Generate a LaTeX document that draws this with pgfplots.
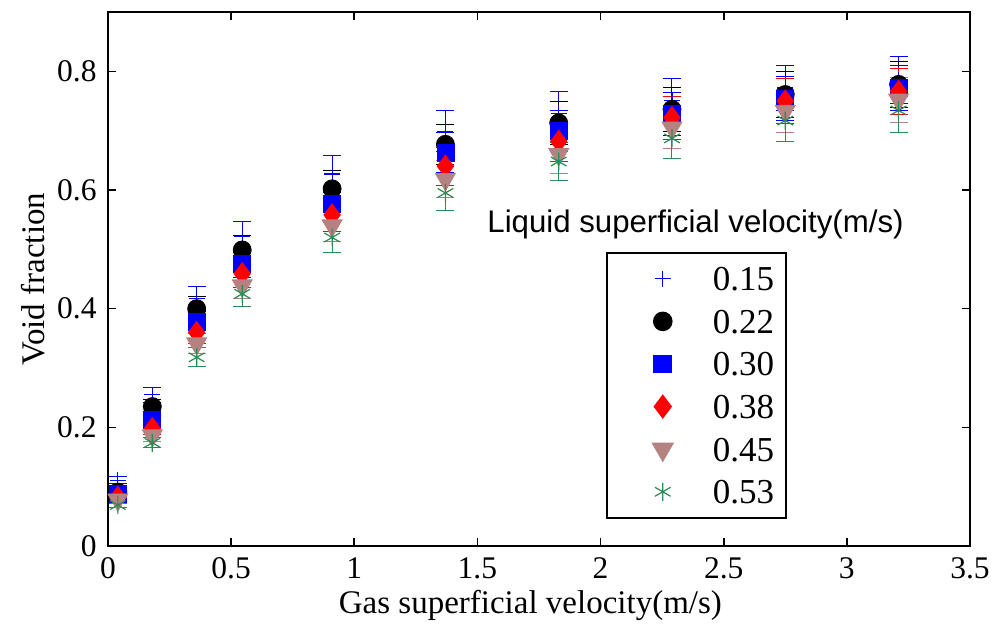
\documentclass[border=0pt]{standalone}
\usepackage{fontspec}
\setmainfont{Liberation Serif}
\newfontfamily\arial{Liberation Sans}
\usepackage{pgfplots}
\pgfplotsset{compat=1.18}
\usetikzlibrary{calc}

\definecolor{mblue}{rgb}{0,0,1}
\definecolor{mbrown}{rgb}{0.71,0.51,0.51}
\definecolor{mgreen}{rgb}{0.16,0.55,0.32}

% void fraction vs gas superficial velocity, one table per liquid velocity
\pgfplotstableread{
x     y
0.04  0.111
0.18  0.255
0.36  0.417
0.545 0.521
0.91  0.627
1.37  0.699
1.83  0.729
2.29  0.751
2.75  0.772
3.21  0.785
}\dataA
\pgfplotstableread{
x     y
0.04  0.091
0.18  0.235
0.36  0.400
0.545 0.499
0.91  0.602
1.37  0.677
1.83  0.713
2.29  0.736
2.75  0.761
3.21  0.778
}\dataB
\pgfplotstableread{
x     y
0.04  0.087
0.18  0.212
0.36  0.377
0.545 0.476
0.91  0.576
1.37  0.663
1.83  0.699
2.29  0.728
2.75  0.754
3.21  0.772
}\dataC
\pgfplotstableread{
x     y
0.04  0.082
0.18  0.198
0.36  0.360
0.545 0.459
0.91  0.558
1.37  0.640
1.83  0.682
2.29  0.722
2.75  0.750
3.21  0.766
}\dataD
\pgfplotstableread{
x     y
0.04  0.078
0.18  0.186
0.36  0.341
0.545 0.439
0.91  0.540
1.37  0.618
1.83  0.660
2.29  0.705
2.75  0.733
3.21  0.752
}\dataE
\pgfplotstableread{
x     y
0.04  0.069
0.18  0.174
0.36  0.318
0.545 0.425
0.91  0.520
1.37  0.595
1.83  0.648
2.29  0.687
2.75  0.717
3.21  0.734
}\dataF

\begin{document}
\begin{tikzpicture}
\begin{axis}[
  scale only axis,
  width=431pt, height=267pt,
  xmin=0, xmax=3.5, ymin=0, ymax=0.9,
  xtick={0,0.5,1,1.5,2,2.5,3,3.5},
  ytick={0,0.2,0.4,0.6,0.8},
  tick align=inside,
  major tick length=4pt,
  axis line style={line width=0.8pt},
  every tick/.style={black, line width=0.8pt},
  /pgf/number format/assume math mode=true,
  tick label style={font=\fontsize{15.75}{19}\selectfont, inner sep=0pt},
  yticklabel style={xshift=-5.5pt},
  xticklabel style={yshift=-5.5pt},
  label style={font=\fontsize{16.5}{20}\selectfont, inner sep=0pt},
  xlabel={Gas superficial velocity(m/s)},
  ylabel={Void fraction},
  xlabel style={at={(rel axis cs:0.49,-0.1255)}, anchor=base},
  ylabel style={at={(rel axis cs:-0.074,0.5)}, anchor=base},
  clip=false,
  legend image code/.code={
    \path[draw=none, fill=none] (0pt,-6pt) rectangle (44pt,6pt);
    \draw[mark repeat=2,mark phase=2,#1] plot coordinates {(0pt,0pt) (22pt,0pt) (44pt,0pt)};
  },
  legend style={
    at={(0.5777,0.5506)}, anchor=north west,
    line width=0.8pt, fill=white,
    inner xsep=6pt, inner ysep=7pt,
    font=\fontsize{17.5}{21}\selectfont,
    row sep=9.3pt,
    nodes={inner sep=0pt, text height=12pt, text depth=0pt},
    /tikz/every odd column/.append style={column sep=3pt},
  },
  legend cell align=left,
  every axis plot/.append style={
    only marks,
    error bars/y dir=both,
    error bars/y fixed relative=0.05,
    error bars/error mark=|,
    error bars/error mark options={mark size=4.5pt, line width=0.5pt},
    error bars/error bar style={line width=0.5pt},
  },
]
\addplot[mblue, draw=mblue, mark=+, mark size=4pt, mark options={line width=0.6pt}] table {\dataA};
\addlegendentry{0.15}
\addplot[black, mark=*, mark size=4.5pt] table {\dataB};
\addlegendentry{0.22}
\addplot[mblue, draw=mblue, mark=square*, mark size=4.25pt] table {\dataC};
\addlegendentry{0.30}
\addplot[red, draw=red, mark=diamond*, mark size=5.5pt] table {\dataD};
\addlegendentry{0.38}
\addplot[mbrown, draw=mbrown, mark=triangle*, mark size=5.77pt, mark options={rotate=180}] table {\dataE};
\addlegendentry{0.45}
\addplot[mgreen, draw=mgreen, mark=asterisk, mark size=4.5pt, mark options={line width=0.6pt}] table {\dataF};
\addlegendentry{0.53}

\node[anchor=base west, inner sep=0pt, font=\arial\fontsize{15.6}{18}\selectfont]
  at (axis cs:1.539,0.528) {Liquid superficial velocity(m/s)};

\coordinate (bl) at (rel axis cs:0,0);
\coordinate (tr) at (rel axis cs:1,1);
\end{axis}
\pgfresetboundingbox
\path[use as bounding box] ($(bl)+(-54pt,-41.5pt)$) rectangle ($(tr)+(11.5pt,6pt)$);
\end{tikzpicture}
\end{document}
